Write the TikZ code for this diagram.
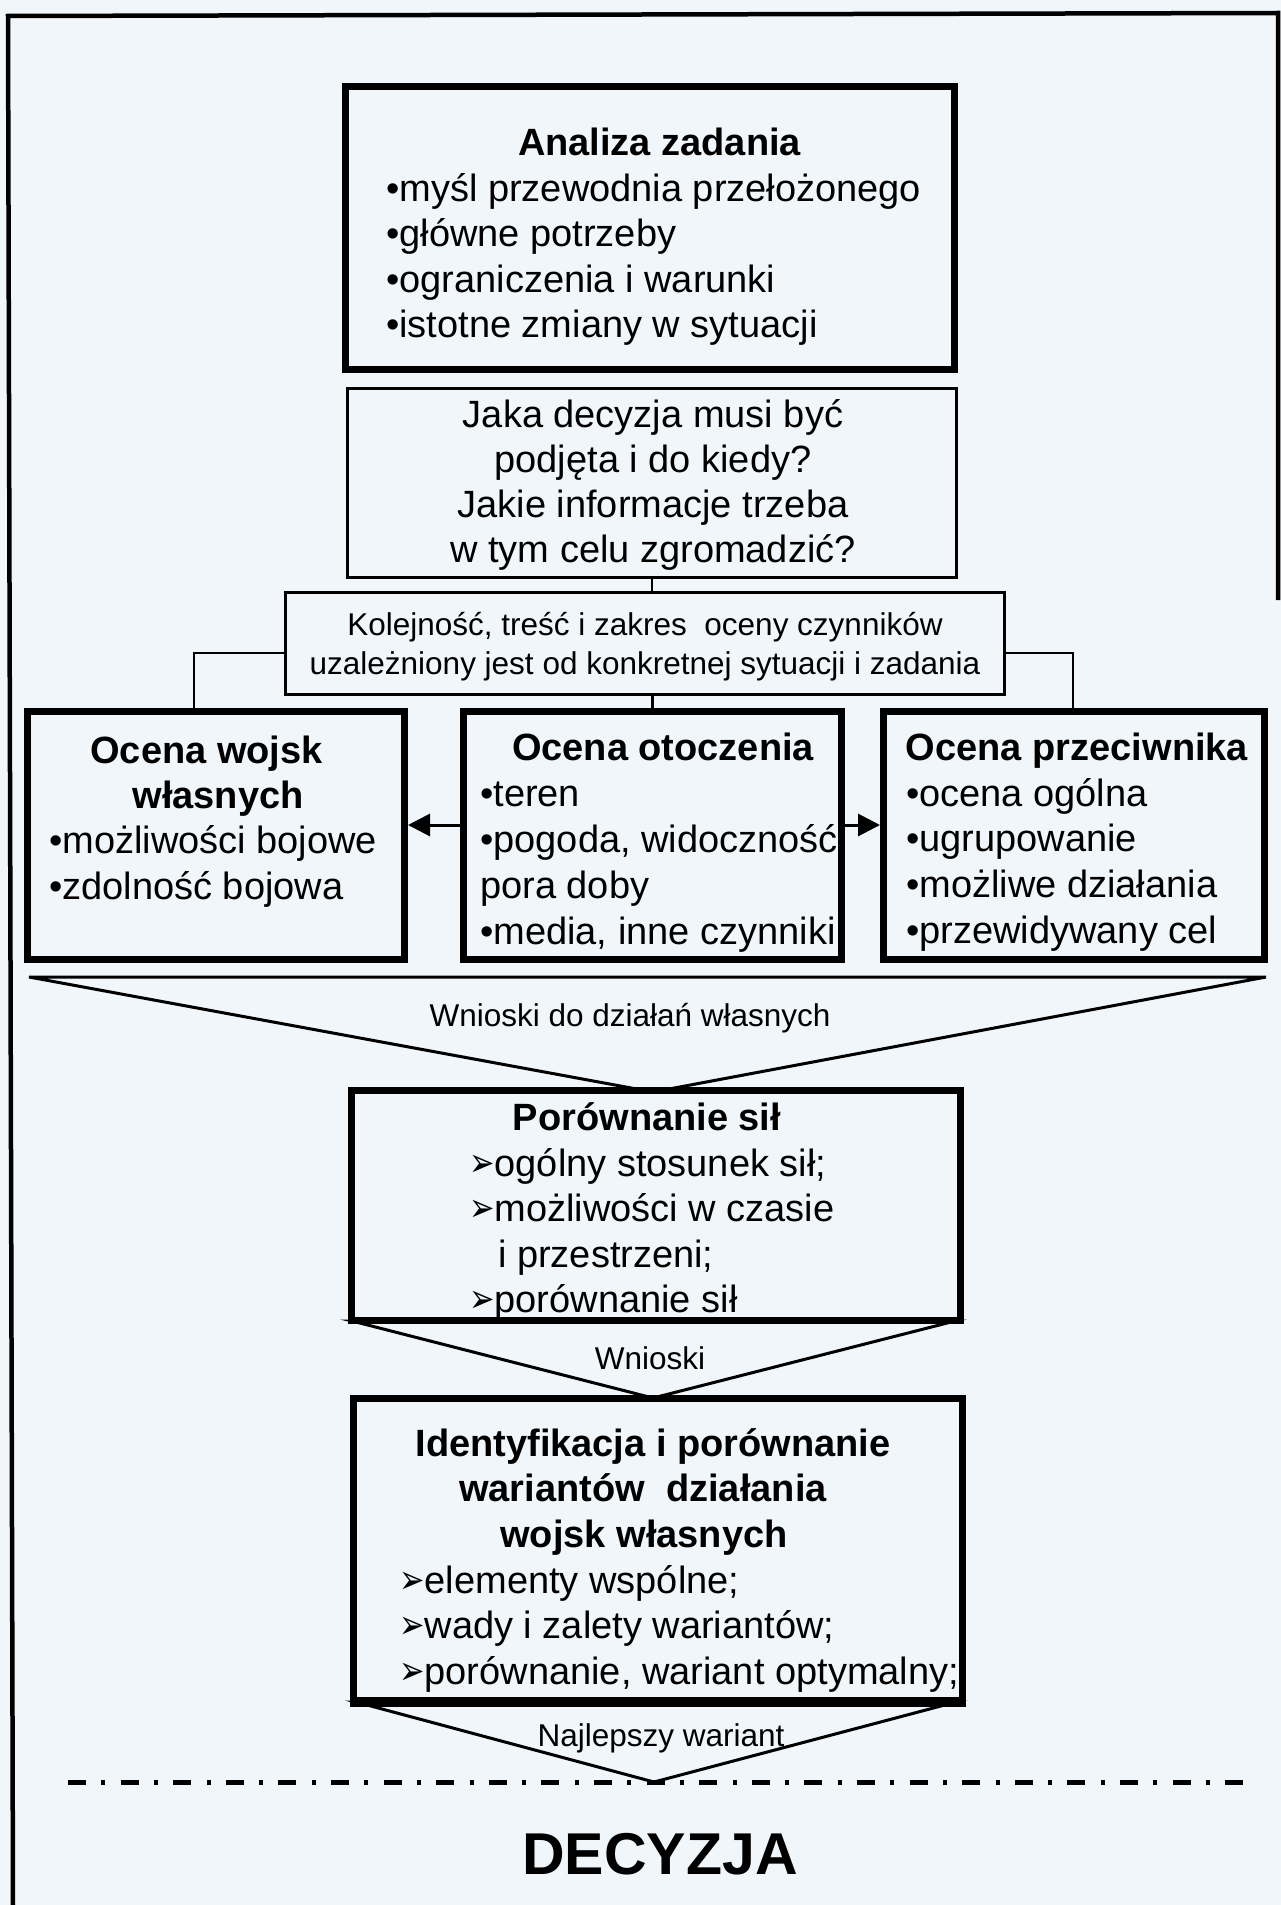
\documentclass[tikz,border=0pt]{standalone}
\usepackage{fontspec}
\usepackage{graphicx}
\setmainfont{Liberation Sans}
\newfontfamily\dejavu{DejaVu Sans}
\usetikzlibrary{arrows.meta}
\definecolor{bg}{RGB}{241,246,250}
\newcommand{\arw}{\scalebox{0.76}[1]{\dejavu\fontsize{40}{40}\selectfont ➢}}
\begin{document}
\begin{tikzpicture}[x=1pt,y=-1pt,
  box/.style={draw, fill=bg, inner sep=0pt, line width=7pt},
  thinbox/.style={draw, fill=bg, inner sep=0pt, line width=3pt},
  conn/.style={line width=2.5pt},
  arr/.style={line width=3pt, -{Triangle[length=22pt,width=22pt]}},
  tri/.style={line width=3pt, line join=miter},
  frame/.style={line width=4.5pt},
  txt/.style={font=\fontsize{38}{45}\selectfont, inner sep=0pt, anchor=base west},
  ttl/.style={font=\bfseries\fontsize{38}{45}\selectfont, inner sep=0pt, anchor=base},
  ctr/.style={font=\fontsize{38}{45}\selectfont, inner sep=0pt, anchor=base},
  sm/.style={font=\fontsize{31.5}{39}\selectfont, inner sep=0pt, anchor=base},
]
\useasboundingbox (0,0) rectangle (1281,1905);
\fill[bg] (0,0) rectangle (1281,1905);

% frame
\coordinate (fbl) at (13,1905);
\coordinate (ftl) at (8,16);
\coordinate (ftr) at (1278,13);
\coordinate (fbr) at (1278,600);
\draw[frame, line join=miter] (fbl) -- (ftl) -- (ftr) -- (fbr);

% triangles (behind boxes)
\coordinate (t1l) at (29,977);
\coordinate (t1r) at (1266,977);
\coordinate (t1a) at (653,1092);
\draw[tri] (t1a) -- (t1l) -- (t1r) -- cycle;
\coordinate (t2l) at (352,1321);
\coordinate (t2r) at (955,1321);
\coordinate (t2a) at (653,1398);
\draw[tri] (t2a) -- (t2l) -- (t2r) -- cycle;
\coordinate (t3l) at (356,1702);
\coordinate (t3r) at (956,1702);
\coordinate (t3a) at (654,1782);
\draw[tri] (t3a) -- (t3l) -- (t3r) -- cycle;

% boxes
\node[box, minimum width=609pt, minimum height=283pt] (b1) at (650,228) {};
\node[thinbox, minimum width=609pt, minimum height=189pt] (b2) at (652,483) {};
\node[thinbox, minimum width=719pt, minimum height=102pt] (b3) at (645,643.5) {};
\node[box, minimum width=377pt, minimum height=248pt] (lft) at (216,835.5) {};
\node[box, minimum width=378pt, minimum height=248pt] (mid) at (652.5,835.5) {};
\node[box, minimum width=381pt, minimum height=248pt] (rgt) at (1074,835.5) {};
\node[box, minimum width=609pt, minimum height=230pt] (pors) at (656,1205.5) {};
\node[box, minimum width=609pt, minimum height=305pt] (ident) at (658,1551) {};
\draw[line width=10pt] ([yshift=5pt]ident.south west) -- ([yshift=5pt]ident.south east);

% connectors
\draw[conn] (b2.south) -- (b2.south |- b3.north);
\draw[conn] (b3.south -| mid.north) -- (mid.north);
\draw[conn] ([yshift=-9.5pt]b3.west) -| ([xshift=-22pt]lft.north);
\draw[conn] ([yshift=-9.5pt]b3.east) -| ([xshift=-1pt]rgt.north);
\draw[arr] ([yshift=10.5pt]mid.west) -- ([yshift=10.5pt]lft.east);
\draw[arr] ([yshift=10.5pt]mid.east) -- ([yshift=10.5pt]rgt.west);

% box 1 text
\node[ttl] (a0) at (659.5,156) {Analiza zadania};
\node[txt] (a1) at (386,201) {•myśl przewodnia przełożonego};
\node[txt] (a2) at (386,246) {•główne potrzeby};
\node[txt] (a3) at (386,292) {•ograniczenia i warunki};
\node[txt] (a4) at (386,337) {•istotne zmiany w sytuacji};

% box 2 text
\node[ctr] (q1) at (653,427) {Jaka decyzja musi być};
\node[ctr] (q2) at (653,472) {podjęta i do kiedy?};
\node[ctr] (q3) at (653,517) {Jakie informacje trzeba};
\node[ctr] (q4) at (653,562) {w tym celu zgromadzić?};

% box 3 text
\node[sm] (k1) at (645,635) {Kolejność, treść i zakres\ \ oceny czynników};
\node[sm] (k2) at (645,674) {uzależniony jest od konkretnej sytuacji i zadania};

% left box text
\node[ttl] (l0) at (206.5,763) {Ocena wojsk};
\node[ttl] (l1) at (218,808) {własnych};
\node[txt] (l2) at (49,853) {•możliwości bojowe};
\node[txt] (l3) at (49,899) {•zdolność bojowa};

% middle box text
\node[ttl] (m0) at (663,760) {Ocena otoczenia};
\node[txt] (m1) at (480,806) {•teren};
\node[txt] (m2) at (480,852) {•pogoda, widoczność};
\node[txt] (m3) at (480,898) {pora doby};
\node[txt] (m4) at (480,944) {•media, inne czynniki};

% right box text
\node[ttl] (r0) at (1077,760) {Ocena przeciwnika};
\node[txt] (r1) at (906,806) {•ocena ogólna};
\node[txt] (r2) at (906,851) {•ugrupowanie};
\node[txt] (r3) at (906,897) {•możliwe działania};
\node[txt] (r4) at (906,943) {•przewidywany cel};

% triangle labels
\node[sm] (w1) at (630,1026) {Wnioski do działań własnych};
\node[sm] (w2) at (650,1369) {Wnioski};
\node[sm] (w3) at (661,1746) {Najlepszy wariant};

% porownanie text
\node[ttl] (p0) at (647,1130) {Porównanie sił};
\node[txt] (p1) at (469,1176) {\arw ogólny stosunek sił;};
\node[txt] (p2) at (469,1221) {\arw możliwości w czasie};
\node[txt] (p3) at (498,1267) {i przestrzeni;};
\node[txt] (p4) at (469,1312) {\arw porównanie sił};

% identyfikacja text
\node[ttl] (i0) at (653,1456) {Identyfikacja i porównanie};
\node[ttl] (i1) at (643,1501) {wariantów\ \ działania};
\node[ttl] (i2) at (644,1547) {wojsk własnych};
\node[txt] (i3) at (399,1593) {\arw elementy wspólne;};
\node[txt] (i4) at (399,1638) {\arw wady i zalety wariantów;};
\node[txt] (i5) at (399,1684) {\arw porównanie, wariant optymalny;};

% dash-dot line
\coordinate (dl) at (68,1782);
\coordinate (dr) at (1243,1782);
\draw[line width=5pt, dash pattern=on 18pt off 15.3pt on 4pt off 15.3pt] (dl) -- (dr);

\node[font=\bfseries\fontsize{59}{65}\selectfont, inner sep=0pt, anchor=base] (dec) at (660,1874) {DECYZJA};
\end{tikzpicture}
\end{document}
